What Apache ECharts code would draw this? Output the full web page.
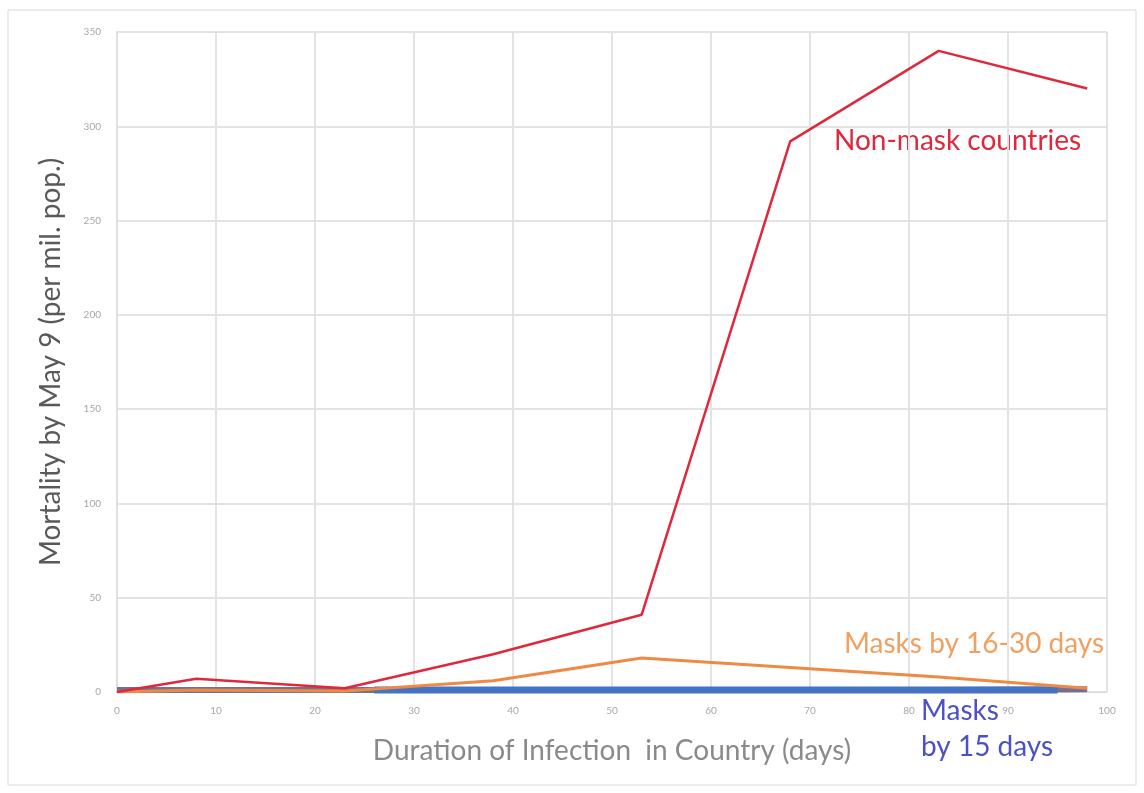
<!DOCTYPE html>
<html><head><meta charset="utf-8">
<script src="https://cdn.jsdelivr.net/npm/echarts@6/dist/echarts.min.js"></script>
<style>html,body{margin:0;padding:0;background:#fff}#c{width:1144px;height:793px}</style>
</head><body><div id="c"></div>
<script>
const nonMaskDays = [0, 8, 23, 38, 53, 68, 83, 98];
const nonMaskVals = [0, 7, 2, 20, 41, 292, 340, 320];
const mask1630Days = [0, 8, 23, 38, 53, 68, 83, 98];
const mask1630Vals = [0, 1, 0.5, 6, 18, 13, 8, 2];
const mask15Days = [26, 40, 55, 70, 85, 95];
const mask15Vals = [1, 1, 1, 1, 1, 1];
const otherDays = [0, 8, 23, 38, 53, 68, 83, 98];
const otherVals = [1, 1, 1, 1, 1, 1, 1, 1.5];
const xTicks = [0, 10, 20, 30, 40, 50, 60, 70, 80, 90, 100];
const yTicks = [0, 50, 100, 150, 200, 250, 300, 350];

const pairs = (xs, ys) => xs.map((x, i) => [x, ys[i]]);
const font = 'Lato, "Open Sans", sans-serif';
const chart = echarts.init(document.getElementById('c'), null, {renderer: 'canvas'});
chart.setOption({
  animation: false,
  backgroundColor: '#fff',
  grid: {left: 117, right: 37, top: 32, bottom: 101},
  xAxis: {
    type: 'value', min: xTicks[0], max: xTicks[xTicks.length - 1], interval: 10,
    name: 'Duration of Infection  in Country (days)', nameLocation: 'middle', nameGap: 45,
    nameTextStyle: {fontFamily: font, fontSize: 28, color: '#8a8a8a'},
    axisLine: {show: true, lineStyle: {color: '#d9d9d9'}},
    axisTick: {show: false},
    axisLabel: {fontFamily: font, fontSize: 10, color: '#a6a6a6', margin: 14},
    splitLine: {show: true, lineStyle: {color: '#e3e3e3', width: 2}}
  },
  yAxis: {
    type: 'value', min: yTicks[0], max: yTicks[yTicks.length - 1], interval: 50,
    name: 'Mortality by May 9 (per mil. pop.)', nameLocation: 'middle', nameGap: 52,
    nameTextStyle: {fontFamily: font, fontSize: 28, color: '#595959'},
    axisLine: {show: true, lineStyle: {color: '#e0e0e0', width: 2}},
    axisTick: {show: false},
    axisLabel: {fontFamily: font, fontSize: 10, color: '#a6a6a6', margin: 16},
    splitLine: {show: true, lineStyle: {color: '#e3e3e3', width: 2}}
  },
  series: [
    {type: 'line', name: 'Other', data: pairs(otherDays, otherVals), symbol: 'none', z: 1,
     lineStyle: {color: '#75708f', width: 6}},
    {type: 'line', name: 'Masks by 15 days', data: pairs(mask15Days, mask15Vals), symbol: 'none', z: 2,
     lineStyle: {color: '#4472c4', width: 7}},
    {type: 'line', name: 'Masks by 16-30 days', data: pairs(mask1630Days, mask1630Vals), symbol: 'none', z: 3,
     lineStyle: {color: '#ed8a46', width: 3}},
    {type: 'line', name: 'Non-mask countries', data: pairs(nonMaskDays, nonMaskVals), symbol: 'none', z: 4,
     lineStyle: {color: '#e0283c', width: 2.5}}
  ],
  graphic: [
    {type: 'rect', shape: {x: 8, y: 10, width: 1128, height: 775}, style: {fill: 'none', stroke: '#d9d9d9', lineWidth: 1}, z: -1},
    {type: 'text', left: 834, top: 127, style: {text: 'Non-mask countries', fontFamily: font, fontSize: 28, fill: '#e0283c'}},
    {type: 'text', left: 844, top: 630, style: {text: 'Masks by 16-30 days', fontFamily: font, fontSize: 28, fill: '#f0a060'}},
    {type: 'text', left: 921, top: 697, style: {text: 'Masks', fontFamily: font, fontSize: 28, fill: '#4b50c8'}},
    {type: 'text', left: 921, top: 733, style: {text: 'by 15 days', fontFamily: font, fontSize: 28, fill: '#4b50c8'}}
  ]
});
</script></body></html>
